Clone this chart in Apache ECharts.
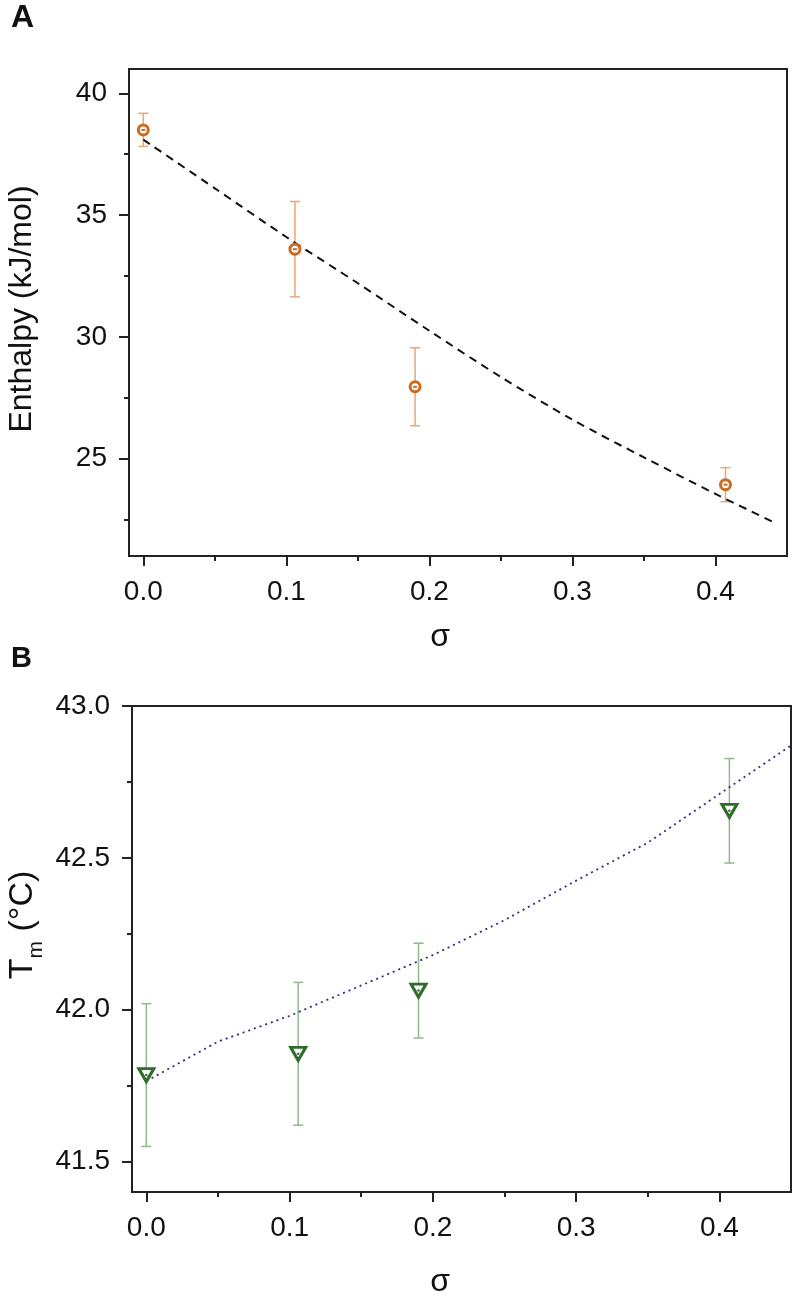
<!DOCTYPE html>
<html>
<head>
<meta charset="utf-8">
<script src="https://cdn.jsdelivr.net/npm/echarts@6/dist/echarts.min.js"></script>
<style>
html,body{margin:0;padding:0;background:#fff;}
#chart{width:792px;height:1303px;}
</style>
</head>
<body>
<div id="chart"></div>
<script>
// ---------- Data ----------
// Panel A: enthalpy vs sigma
var aSigma = [0.0, 0.106, 0.19, 0.407];
var aEnthalpy = [38.5, 33.6, 27.95, 23.93];
var aErr = [0.68, 1.96, 1.6, 0.7];
var aFitSigma = [0.0, 0.05, 0.1, 0.15, 0.2, 0.25, 0.3, 0.35, 0.4, 0.442];
var aFitValue = [38.1, 36.1, 34.1, 32.2, 30.25, 28.35, 26.6, 25.05, 23.55, 22.35];
var aXTicks = [0.0, 0.1, 0.2, 0.3, 0.4];
var aXMinor = [0.05, 0.15, 0.25, 0.35];
var aYTicks = [25, 30, 35, 40];
var aYMinor = [22.5, 27.5, 32.5, 37.5];

// Panel B: Tm vs sigma
var bSigma = [0.0, 0.106, 0.19, 0.407];
var bTm = [41.785, 41.855, 42.063, 42.655];
var bErr = [0.235, 0.235, 0.156, 0.172];
var bFitSigma = [0.0, 0.05, 0.1, 0.15, 0.2, 0.25, 0.3, 0.35, 0.4, 0.45];
var bFitValue = [41.765, 41.895, 41.98, 42.08, 42.18, 42.295, 42.425, 42.55, 42.71, 42.87];
var bXTicks = [0.0, 0.1, 0.2, 0.3, 0.4];
var bXMinor = [0.05, 0.15, 0.25, 0.35];
var bYTicks = [41.5, 42.0, 42.5, 43.0];
var bYMinor = [41.75, 42.25, 42.75];

// ---------- Styles ----------
var FONT = 'Liberation Sans, Arial, Helvetica, sans-serif';
var AXC = '#222222';
var orange = '#cc6a1e', orangeLight = '#e9a67a';
var green = '#2f6b2a', greenLight = '#92b98c';
var navy = '#2e2e80';

function zip(xs, ys, es) {
  return xs.map(function (x, i) { return es ? [x, ys[i], es[i]] : [x, ys[i]]; });
}

function mainX(gi, ticks, dec) {
  return {
    type: 'value', gridIndex: gi, min: -0.01, max: 0.45, position: 'bottom',
    axisLine: { show: true, onZero: false, lineStyle: { color: AXC, width: 2 } },
    axisTick: { show: true, inside: false, length: 10, customValues: ticks, lineStyle: { color: AXC, width: 2 } },
    axisLabel: { show: true, customValues: ticks, margin: 22, color: '#111', fontSize: 28, fontFamily: FONT,
      formatter: function (v) { return v.toFixed(dec); } },
    splitLine: { show: false }
  };
}
function minorX(gi, ticks) {
  return {
    type: 'value', gridIndex: gi, min: -0.01, max: 0.45, position: 'bottom',
    axisLine: { show: false, onZero: false },
    axisTick: { show: true, inside: false, length: 5, customValues: ticks, lineStyle: { color: AXC, width: 2 } },
    axisLabel: { show: false }, splitLine: { show: false }
  };
}
function mainY(gi, min, max, ticks, dec) {
  return {
    type: 'value', gridIndex: gi, min: min, max: max, position: 'left',
    axisLine: { show: true, onZero: false, lineStyle: { color: AXC, width: 2 } },
    axisTick: { show: true, inside: false, length: 10, customValues: ticks, lineStyle: { color: AXC, width: 2 } },
    axisLabel: { show: true, customValues: ticks, margin: 22, color: '#111', fontSize: 28, fontFamily: FONT,
      formatter: function (v) { return v.toFixed(dec); } },
    splitLine: { show: false }
  };
}
function minorY(gi, min, max, ticks) {
  return {
    type: 'value', gridIndex: gi, min: min, max: max, position: 'left',
    axisLine: { show: false, onZero: false },
    axisTick: { show: true, inside: false, length: 5, customValues: ticks, lineStyle: { color: AXC, width: 2 } },
    axisLabel: { show: false }, splitLine: { show: false }
  };
}

function errorBarSeries(xi, yi, data, color) {
  return {
    type: 'custom', xAxisIndex: xi, yAxisIndex: yi, z: 2, silent: true,
    data: data,
    renderItem: function (params, api) {
      var x = api.value(0), y = api.value(1), e = api.value(2);
      var top = api.coord([x, y + e]);
      var bot = api.coord([x, y - e]);
      var hc = 5;
      var st = { stroke: color, lineWidth: 1.5 };
      return {
        type: 'group',
        children: [
          { type: 'line', shape: { x1: top[0], y1: top[1], x2: bot[0], y2: bot[1] }, style: st },
          { type: 'line', shape: { x1: top[0] - hc, y1: top[1], x2: top[0] + hc, y2: top[1] }, style: st },
          { type: 'line', shape: { x1: bot[0] - hc, y1: bot[1], x2: bot[0] + hc, y2: bot[1] }, style: st }
        ]
      };
    }
  };
}

var chart = echarts.init(document.getElementById('chart'), null, { renderer: 'canvas' });

var option = {
  animation: false,
  backgroundColor: '#ffffff',
  grid: [
    { left: 129, top: 69, width: 658, height: 487, show: true, borderColor: AXC, borderWidth: 2, backgroundColor: 'transparent' },
    { left: 132, top: 706, width: 659, height: 486, show: true, borderColor: AXC, borderWidth: 2, backgroundColor: 'transparent' }
  ],
  xAxis: [
    mainX(0, aXTicks, 1), minorX(0, aXMinor),
    mainX(1, bXTicks, 1), minorX(1, bXMinor)
  ],
  yAxis: [
    mainY(0, 21, 41, aYTicks, 0), minorY(0, 21, 41, aYMinor),
    mainY(1, 41.4, 43.0, bYTicks, 1), minorY(1, 41.4, 43.0, bYMinor)
  ],
  graphic: [
    { type: 'text', x: 11, y: 2, style: { text: 'A', fontSize: 32, fontWeight: 'bold', fontFamily: FONT, fill: '#111' } },
    { type: 'text', x: 11, y: 644, style: { text: 'B', fontSize: 29, fontWeight: 'bold', fontFamily: FONT, fill: '#111' } },
    { type: 'text', x: 22, y: 309, rotation: Math.PI / 2,
      style: { text: 'Enthalpy (kJ/mol)', fontSize: 32, fontFamily: FONT, fill: '#111', align: 'center', verticalAlign: 'middle' } },
    { type: 'text', x: 23, y: 925, rotation: Math.PI / 2,
      style: { text: '{a|T}{b|m}{a| (°C)}', align: 'center', verticalAlign: 'middle', fill: '#111',
        rich: {
          a: { fontSize: 34, fontFamily: FONT, lineHeight: 48, fill: '#111' },
          b: { fontSize: 21, fontFamily: FONT, lineHeight: 22, verticalAlign: 'bottom', fill: '#111' }
        } } },
    { type: 'text', x: 440, y: 637,
      style: { text: 'σ', fontSize: 32, fontFamily: FONT, fill: '#111', align: 'center', verticalAlign: 'middle' } },
    { type: 'text', x: 440, y: 1282,
      style: { text: 'σ', fontSize: 32, fontFamily: FONT, fill: '#111', align: 'center', verticalAlign: 'middle' } }
  ],
  series: [
    // Panel A
    errorBarSeries(0, 0, zip(aSigma, aEnthalpy, aErr), orangeLight),
    {
      type: 'line', xAxisIndex: 0, yAxisIndex: 0, z: 3, silent: true,
      data: zip(aFitSigma, aFitValue), smooth: 0.3, showSymbol: false, symbol: 'none',
      lineStyle: { color: '#111', width: 2, type: [8, 6] }
    },
    {
      type: 'scatter', xAxisIndex: 0, yAxisIndex: 0, z: 4, silent: true,
      data: zip(aSigma, aEnthalpy), symbol: 'circle', symbolSize: 10,
      itemStyle: { color: '#ffffff', borderColor: orange, borderWidth: 3, opacity: 1 }
    },
    {
      type: 'scatter', xAxisIndex: 0, yAxisIndex: 0, z: 5, silent: true,
      data: zip(aSigma, aEnthalpy), symbol: 'rect', symbolSize: [4, 2],
      itemStyle: { color: orange, opacity: 1 }
    },
    // Panel B
    errorBarSeries(2, 2, zip(bSigma, bTm, bErr), greenLight),
    {
      type: 'line', xAxisIndex: 2, yAxisIndex: 2, z: 3, silent: true,
      data: zip(bFitSigma, bFitValue), smooth: false, showSymbol: false, symbol: 'none',
      lineStyle: { color: navy, width: 1.8, type: [2, 4] }
    },
    {
      type: 'scatter', xAxisIndex: 2, yAxisIndex: 2, z: 4, silent: true,
      data: zip(bSigma, bTm), symbol: 'triangle', symbolRotate: 180, symbolSize: [15, 13],
      itemStyle: { color: '#ffffff', borderColor: green, borderWidth: 3, opacity: 1 }
    },
    {
      type: 'scatter', xAxisIndex: 2, yAxisIndex: 2, z: 5, silent: true,
      data: zip(bSigma, bTm), symbol: 'circle', symbolSize: 2.5,
      itemStyle: { color: green, opacity: 1 }
    }
  ]
};
chart.setOption(option);
</script>
</body>
</html>
